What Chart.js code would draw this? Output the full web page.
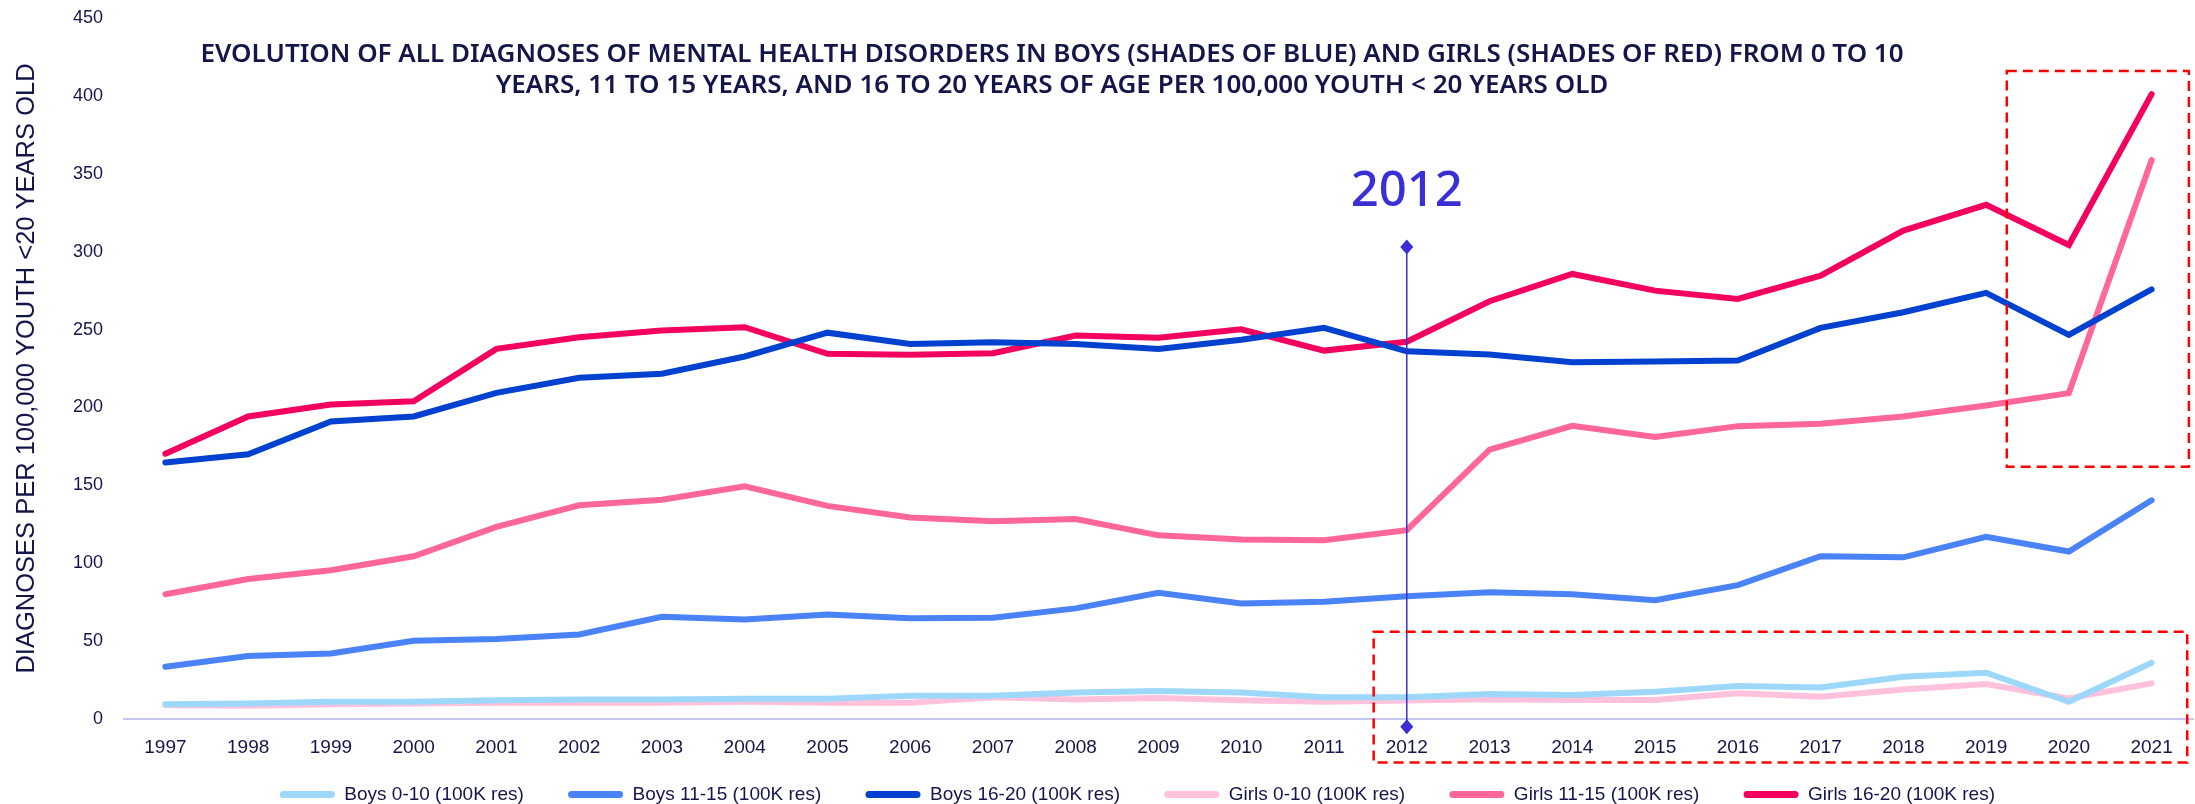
<!DOCTYPE html>
<html>
<head>
<meta charset="utf-8">
<script src="https://cdn.jsdelivr.net/npm/chart.js@4.4.1/dist/chart.umd.min.js"></script>
<style>
  html, body { margin: 0; padding: 0; background: #ffffff; }
  #wrap { width: 2195px; height: 804px; }
</style>
</head>
<body>
<div id="wrap"><canvas id="diagChart" width="2195" height="804"></canvas></div>
<script>
// years on the x axis
const years = ['1997', '1998', '1999', '2000', '2001', '2002', '2003', '2004', '2005', '2006', '2007', '2008',
  '2009', '2010', '2011', '2012', '2013', '2014', '2015', '2016', '2017', '2018', '2019', '2020', '2021'];

// diagnoses per 100,000 youth
const boys0to10 = [9.5, 10, 11, 11, 12, 12.5, 12.5, 13, 13, 15, 15, 17, 18, 17, 14, 13.9, 16, 15.4, 17.5, 21.2, 20.3, 27.1, 29.7, 11.1, 36.1];
const boys11to15 = [33.5, 40.4, 42.1, 50.2, 51.3, 54.3, 65.6, 63.9, 67.1, 64.6, 65, 71, 81, 74.1, 75.2, 78.8, 81.4, 80.1, 76.3, 85.9, 104.5, 103.8, 117, 107.5, 140.4];
const boys16to20 = [164.7, 169.9, 191, 194.2, 209.4, 219, 221.6, 232.7, 248, 240.8, 241.9, 240.8, 237.6, 243.4, 251.1, 236, 234, 229, 229.5, 230.1, 251.1, 261.1, 273.5, 246.6, 275.8];
const girls0to10 = [9, 8.5, 9.5, 10, 10.5, 10.5, 10.5, 11, 10.5, 10.5, 14, 12.5, 13.5, 12, 11, 11.8, 12.6, 12.2, 12.2, 16.5, 14.3, 19, 22.4, 13.2, 22.9];
const girls11to15 = [80.1, 89.9, 95.5, 104.5, 123.3, 137.2, 140.8, 149.4, 136.8, 129.3, 126.9, 128.4, 117.9, 115.2, 114.7, 121.2, 172.9, 188.2, 181, 188, 189.5, 194.2, 201.3, 209.2, 358.8];
const girls16to20 = [170.3, 194.2, 201.9, 204, 237.6, 245, 249.4, 251.5, 234.4, 233.8, 234.8, 246.2, 244.7, 250.2, 236.5, 242.2, 268.2, 285.7, 275, 269.7, 284.6, 313.5, 330.1, 304.3, 401.1];

const seriesNames = ['Boys 0-10 (100K res)', 'Boys 11-15 (100K res)', 'Boys 16-20 (100K res)',
  'Girls 0-10 (100K res)', 'Girls 11-15 (100K res)', 'Girls 16-20 (100K res)'];
const seriesColors = ['#9dd8fb', '#4a82f7', '#0041cf', '#ffc1dc', '#ff6699', '#f4005f'];

// vertical marker for 2012 (value range) and the two highlighted areas (category index / value)
const markerYear = '2012';
const markerTop = 303;
const markerBottom = -5;
const highlightBoxes = [
  { x0: 22.25, x1: 24.45, y0: 416, y1: 162 },
  { x0: 14.6, x1: 24.43, y0: 56, y1: -28 }
];

const NAVY = '#14164a';
const MARKER = '#3a2fd4';

const titleLines = [
  'EVOLUTION OF ALL DIAGNOSES OF MENTAL HEALTH DISORDERS IN BOYS (SHADES OF BLUE) AND GIRLS (SHADES OF RED) FROM 0 TO 10',
  'YEARS, 11 TO 15 YEARS, AND 16 TO 20 YEARS OF AGE PER 100,000 YOUTH < 20 YEARS OLD'
];

// horizontal room between legend entries without growing the legend vertically
const legendGap = '\u00a0'.repeat(8);

const allSeries = [boys0to10, boys11to15, boys16to20, girls0to10, girls11to15, girls16to20];

const datasets = allSeries.map((values, i) => ({
  label: seriesNames[i],
  data: values,
  borderColor: seriesColors[i],
  backgroundColor: seriesColors[i],
  borderWidth: 6,
  borderCapStyle: 'round',
  pointRadius: 0,
  tension: 0,
  fill: false
}));

function diamond(ctx, x, y, w, h) {
  ctx.beginPath();
  ctx.moveTo(x, y - h / 2);
  ctx.lineTo(x + w / 2, y);
  ctx.lineTo(x, y + h / 2);
  ctx.lineTo(x - w / 2, y);
  ctx.closePath();
  ctx.fill();
}

// extra drawing: title, 2012 marker, dashed boxes
const overlay = {
  id: 'overlay',
  afterDraw(chart) {
    const ctx = chart.ctx;
    const xs = chart.scales.x;
    const ys = chart.scales.y;
    ctx.save();

    // title
    ctx.fillStyle = NAVY;
    ctx.font = '600 26px "Noto Sans", sans-serif';
    ctx.textAlign = 'center';
    ctx.textBaseline = 'middle';
    ctx.fillText(titleLines[0], 1052, 55);
    ctx.fillText(titleLines[1], 1052, 86);

    // 2012 marker
    const mx = xs.getPixelForValue(years.indexOf(markerYear));
    const yTop = ys.getPixelForValue(markerTop);
    const yBot = ys.getPixelForValue(markerBottom);
    ctx.strokeStyle = MARKER;
    ctx.fillStyle = MARKER;
    ctx.lineWidth = 1.5;
    ctx.beginPath();
    ctx.moveTo(mx, yTop);
    ctx.lineTo(mx, yBot);
    ctx.stroke();
    diamond(ctx, mx, yTop, 13, 15);
    diamond(ctx, mx, yBot, 13, 15);
    ctx.font = '500 49px "Noto Sans", sans-serif';
    ctx.fillText(markerYear, mx, 192);

    // dashed highlight boxes
    ctx.strokeStyle = '#ff0000';
    ctx.lineWidth = 2.5;
    ctx.setLineDash([10, 6]);
    highlightBoxes.forEach(b => {
      const x0 = xs.getPixelForValue(b.x0);
      const x1 = xs.getPixelForValue(b.x1);
      const y0 = ys.getPixelForValue(b.y0);
      const y1 = ys.getPixelForValue(b.y1);
      ctx.strokeRect(x0, y0, x1 - x0, y1 - y0);
    });
    ctx.restore();
  }
};

const ctx = document.getElementById('diagChart').getContext('2d');
const chart = new Chart(ctx, {
  type: 'line',
  data: { labels: years, datasets: datasets },
  options: {
    responsive: false,
    animation: false,
    layout: { padding: { top: 18, right: 2, bottom: -10, left: 0 } },
    plugins: {
      legend: {
        position: 'bottom',
        fullSize: false,
        labels: {
          color: NAVY,
          font: { family: '"Liberation Sans", sans-serif', size: 19 },
          boxWidth: 55,
          boxHeight: 7,
          padding: 2,
          useBorderRadius: true,
          borderRadius: 3.5,
          generateLabels(c) {
            return Chart.defaults.plugins.legend.labels.generateLabels(c).map(l => {
              l.lineWidth = 0;
              l.text = l.text + legendGap;
              return l;
            });
          }
        }
      },
      tooltip: { enabled: false }
    },
    scales: {
      x: {
        offset: true,
        grid: { display: false, drawTicks: false },
        border: { display: true, color: '#c6c6f3', width: 2 },
        ticks: {
          color: NAVY,
          font: { family: '"Liberation Sans", sans-serif', size: 19 },
          padding: 17,
          maxRotation: 0,
          autoSkip: false
        },
        afterFit(scale) { scale.height = 64; }
      },
      y: {
        min: 0,
        max: 450,
        // invisible tick marks push the labels away from the plot
        grid: { display: true, drawOnChartArea: false, drawTicks: true, tickLength: 21, tickColor: 'rgba(0,0,0,0)' },
        border: { display: false },
        ticks: {
          stepSize: 50,
          color: NAVY,
          font: { family: '"Liberation Sans", sans-serif', size: 18 },
          padding: 0
        },
        title: {
          display: true,
          text: 'DIAGNOSES PER 100,000 YOUTH <20 YEARS OLD',
          color: NAVY,
          font: { family: '"Liberation Sans", sans-serif', size: 25.5 },
          padding: { top: 12, bottom: 0 }
        },
        afterFit(scale) { scale.width = 124; }
      }
    }
  },
  plugins: [overlay]
});
</script>
</body>
</html>
